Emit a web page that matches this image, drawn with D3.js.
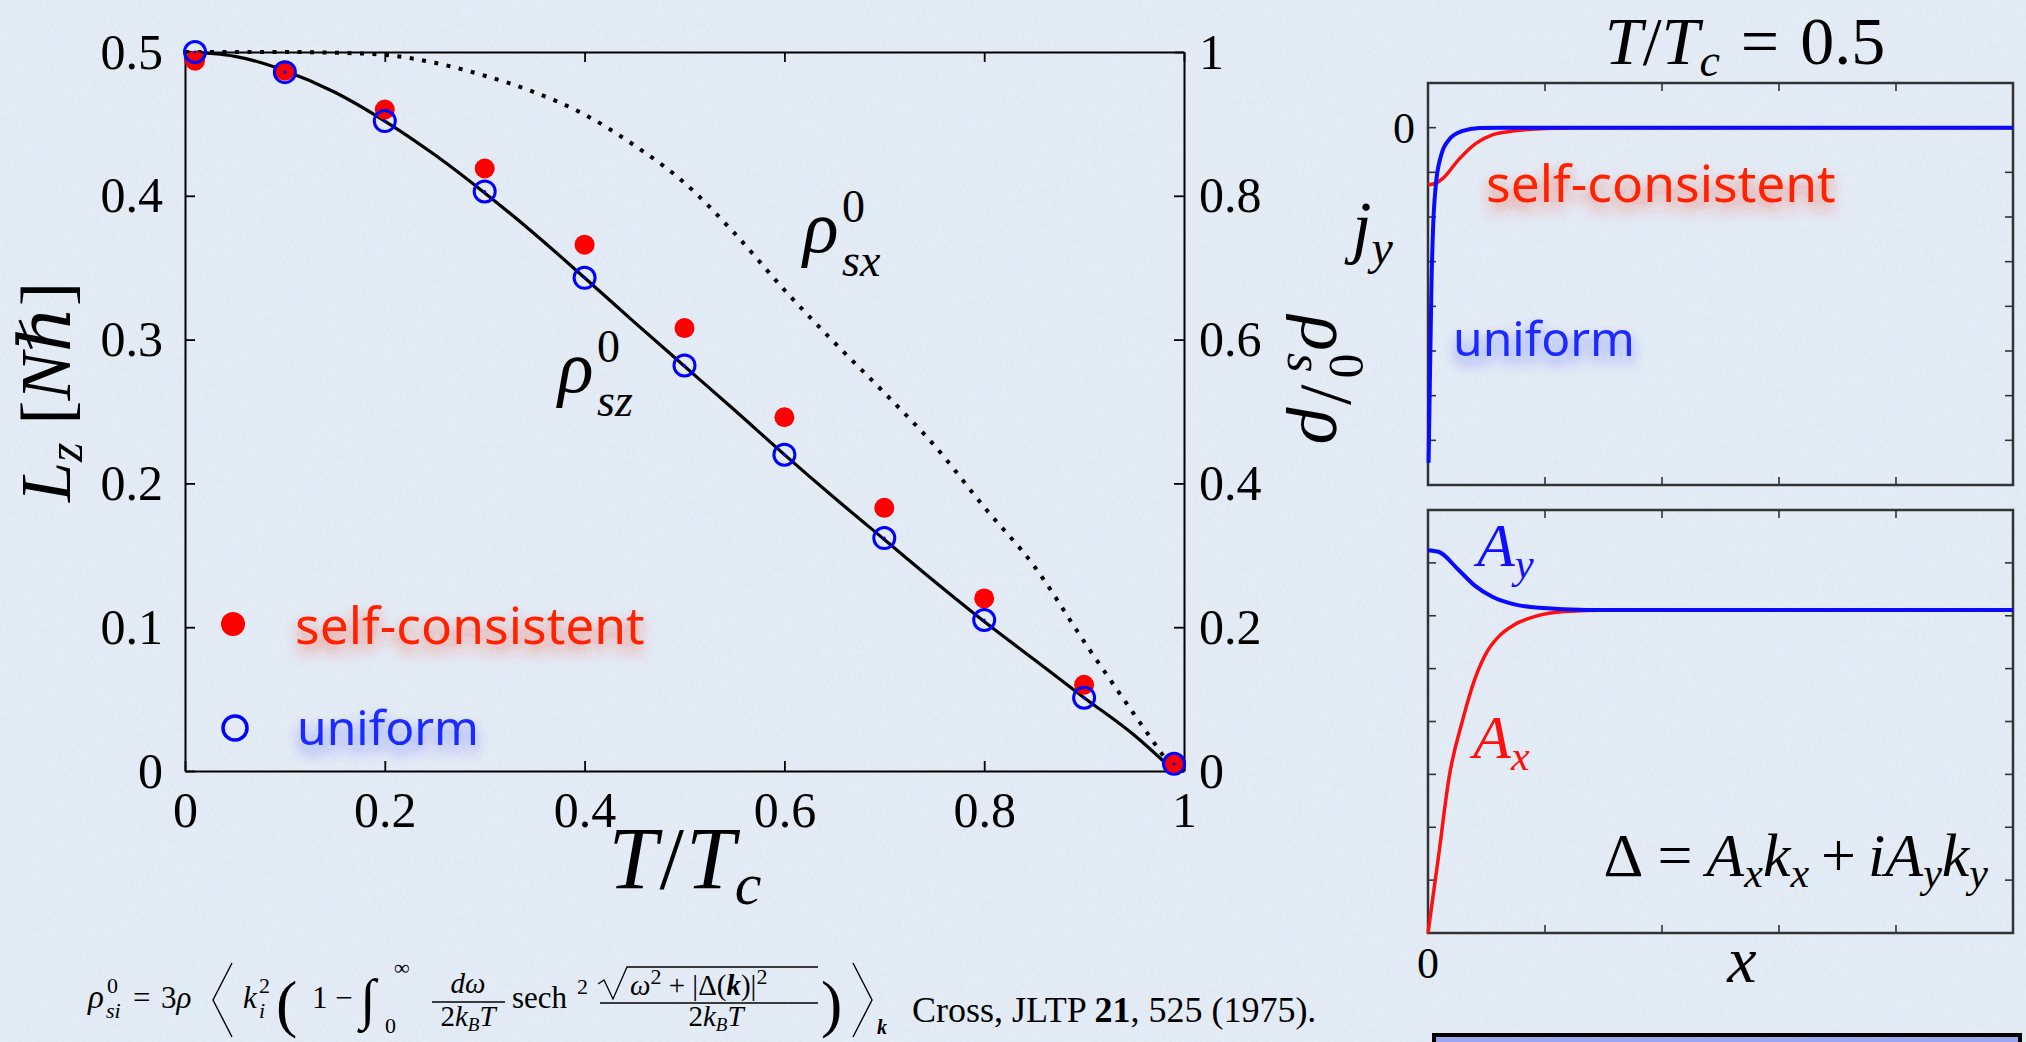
<!DOCTYPE html>
<html><head><meta charset="utf-8">
<script src="https://cdn.jsdelivr.net/npm/d3@7"></script>
<style>html,body{margin:0;padding:0;background:#e4ecf6;overflow:hidden}svg{display:block}</style>
</head><body>
<svg id="c" width="2026" height="1042"></svg>
<script>
// ---------------- data ----------------
const T_points = [0.01, 0.1, 0.2, 0.3, 0.4, 0.5, 0.6, 0.7, 0.8, 0.9, 0.99];
const selfConsistent = [0.494, 0.487, 0.460, 0.419, 0.366, 0.308, 0.246, 0.183, 0.120, 0.060, 0.005];
const uniform = [0.500, 0.486, 0.452, 0.403, 0.343, 0.282, 0.220, 0.162, 0.105, 0.051, 0.005];
const T_curve = [0, 0.05, 0.1, 0.15, 0.2, 0.25, 0.3, 0.35, 0.4, 0.45, 0.5, 0.55, 0.6, 0.65, 0.7, 0.75, 0.8, 0.85, 0.9, 0.95, 0.99];
const rhoSz = [1.0, 0.994, 0.974, 0.944, 0.904, 0.857, 0.804, 0.747, 0.686, 0.624, 0.563, 0.502, 0.440, 0.380, 0.322, 0.264, 0.208, 0.155, 0.102, 0.050, 0.0];
const rhoSx = [1.0, 1.0, 1.0, 0.999, 0.996, 0.985, 0.967, 0.944, 0.913, 0.870, 0.818, 0.748, 0.669, 0.596, 0.526, 0.453, 0.367, 0.285, 0.180, 0.079, 0.0];
const xTicksMain = [0, 0.2, 0.4, 0.6, 0.8, 1];
const yTicksLeft = [0, 0.1, 0.2, 0.3, 0.4, 0.5];
const yTicksRight = [0, 0.2, 0.4, 0.6, 0.8, 1];
const legendLabels = ["self-consistent", "uniform"];

// j_y panel (T/Tc = 0.5)
const x_jyUniform = [0.005, 0.018, 0.03, 0.044, 0.066, 0.11, 0.18, 0.29, 0.44, 0.65, 5];
const jyUniform = [-7.5, -5.35, -3.47, -2.21, -1.31, -0.64, -0.27, -0.08, -0.01, 0, 0];
const x_jySelf = [0, 0.06, 0.13, 0.26, 0.41, 0.55, 0.74, 1.0, 1.25, 5];
const jySelf = [-1.28, -1.25, -1.13, -0.72, -0.35, -0.16, -0.07, -0.02, 0, 0];
const jyTicksY = [-7, -6, -5, -4, -3, -2, -1, 0];
const panelTicksX = [1, 2, 3, 4];

// A panel
const x_Ay = [0, 0.09, 0.26, 0.40, 0.55, 0.73, 0.95, 1.36, 2, 5];
const Ay = [7.24, 7.21, 6.87, 6.57, 6.36, 6.22, 6.15, 6.11, 6.11, 6.11];
const x_Ax = [0, 0.09, 0.18, 0.30, 0.40, 0.51, 0.61, 0.73, 0.92, 1.17, 1.54, 5];
const Ax = [0, 1.45, 2.94, 4.06, 4.80, 5.34, 5.62, 5.82, 5.99, 6.08, 6.11, 6.11];
const aTicksY = [1, 2, 3, 4, 5, 6, 7];

// ---------------- setup ----------------
const svg = d3.select('#c');
const SERIF = "'Liberation Serif','DejaVu Serif',serif";
const SANS = "'Noto Sans','Open Sans',sans-serif";
const defs = svg.append('defs');
defs.append('filter').attr('id', 'paper').attr('x', 0).attr('y', 0).attr('width', 1).attr('height', 1)
  .html('<feTurbulence type="fractalNoise" baseFrequency="0.55 0.18" numOctaves="3" seed="7"/>' +
        '<feColorMatrix type="matrix" values="0 0 0 0 0.55  0 0 0 0 0.6  0 0 0 0 0.72  0.5 0 0 0 -0.18"/>');
function glow(id, op) {
  defs.append('filter').attr('id', id).attr('x', '-20%').attr('y', '-60%').attr('width', '140%').attr('height', '220%')
    .html('<feGaussianBlur in="SourceGraphic" stdDeviation="7" result="b"/>' +
          '<feOffset in="b" dy="8" result="o"/>' +
          '<feComponentTransfer in="o" result="o2"><feFuncA type="linear" slope="' + op + '"/></feComponentTransfer>' +
          '<feMerge><feMergeNode in="o2"/><feMergeNode in="SourceGraphic"/></feMerge>');
}
glow('glowR', 0.55); glow('glowB', 0.45);

svg.append('rect').attr('width', 2026).attr('height', 1042).attr('fill', '#e4ecf6');
svg.append('rect').attr('width', 2026).attr('height', 1042).attr('filter', 'url(#paper)').attr('opacity', 0.6);

// ---------------- main plot ----------------
const x = d3.scaleLinear().domain([0, 1]).range([185, 1184]);
const yL = d3.scaleLinear().domain([0, 0.5]).range([771, 52]);
const yR = d3.scaleLinear().domain([0, 1]).range([771, 52]);
const fmt = d => d3.format('~g')(d);

function styleAxis(g, size) {
  g.select('.domain').attr('stroke', '#000').attr('stroke-width', 2);
  g.selectAll('.tick line').attr('stroke', '#000').attr('stroke-width', 1.8);
  g.selectAll('text').attr('font-family', SERIF).attr('font-size', size).attr('fill', '#000');
}
const gb = svg.append('g').attr('transform', 'translate(0,771)')
  .call(d3.axisBottom(x).tickValues(xTicksMain).tickSizeInner(-10).tickSizeOuter(0).tickPadding(20).tickFormat(fmt));
styleAxis(gb, 50);
const gt = svg.append('g').attr('transform', 'translate(0,52)')
  .call(d3.axisTop(x).tickValues(xTicksMain).tickSizeInner(-10).tickSizeOuter(0).tickFormat(''));
styleAxis(gt, 50);
const gl = svg.append('g').attr('transform', 'translate(185,0)')
  .call(d3.axisLeft(yL).tickValues(yTicksLeft).tickSizeInner(-10).tickSizeOuter(0).tickPadding(22).tickFormat(fmt));
styleAxis(gl, 50);
const gr = svg.append('g').attr('transform', 'translate(1184,0)')
  .call(d3.axisRight(yR).tickValues(yTicksRight).tickSizeInner(-10).tickSizeOuter(0).tickPadding(15).tickFormat(fmt));
styleAxis(gr, 50);

const lineR = d3.line().x((d, i) => x(T_curve[i])).y(d => yR(d)).curve(d3.curveMonotoneX);
svg.append('path').attr('d', lineR(rhoSx)).attr('fill', 'none').attr('stroke', '#000')
  .attr('stroke-width', 4).attr('stroke-dasharray', '4 8.5');
svg.append('path').attr('d', lineR(rhoSz)).attr('fill', 'none').attr('stroke', '#000').attr('stroke-width', 3.2);

svg.append('g').selectAll('circle').data(selfConsistent).join('circle')
  .attr('cx', (d, i) => x(T_points[i])).attr('cy', d => yL(d)).attr('r', 10).attr('fill', '#ff0000');
const gu = svg.append('g');
gu.selectAll('circle.o').data(uniform).join('circle').attr('class', 'o')
  .attr('cx', (d, i) => x(T_points[i])).attr('cy', d => yL(d)).attr('r', 10.5)
  .attr('fill', 'none').attr('stroke', '#0000ff').attr('stroke-width', 3);
gu.selectAll('circle.c').data(uniform).join('circle').attr('class', 'c')
  .attr('cx', (d, i) => x(T_points[i])).attr('cy', d => yL(d)).attr('r', 1.6).attr('fill', '#0000ff');

// legend
svg.append('circle').attr('cx', 233).attr('cy', 624).attr('r', 12).attr('fill', '#ff0000');
svg.append('circle').attr('cx', 235).attr('cy', 728).attr('r', 12).attr('fill', 'none').attr('stroke', '#0000ff').attr('stroke-width', 3.5);
svg.append('text').attr('x', 295).attr('y', 644).attr('font-family', SANS).attr('font-size', 51.5)
  .attr('fill', '#ff2200').attr('filter', 'url(#glowR)').text(legendLabels[0]);
svg.append('text').attr('x', 297).attr('y', 745).attr('font-family', SANS).attr('font-size', 48)
  .attr('fill', '#1f2bff').attr('filter', 'url(#glowB)').text(legendLabels[1]);

// helper for math text
function mtext(parent, xx, yy, size, parts, opts = {}) {
  const t = parent.append('text').attr('x', xx).attr('y', yy).attr('font-family', SERIF)
    .attr('font-size', size).attr('fill', opts.fill || '#000');
  if (opts.anchor) t.attr('text-anchor', opts.anchor);
  if (opts.transform) t.attr('transform', opts.transform);
  parts.forEach(p => {
    const s = t.append('tspan').text(p.t);
    if (p.i) s.attr('font-style', 'italic');
    if (p.b) s.attr('font-weight', 'bold');
    if (p.s) s.attr('font-size', p.s);
    if (p.dy) s.attr('dy', p.dy);
    if (p.dx) s.attr('dx', p.dx);
  });
  return t;
}

// curve annotations (base symbol, superscript and subscript as separate texts)
function rhoLabel(x0, y0, sub) {
  mtext(svg, x0, y0, 74, [{t: 'ρ', i: 1}]);
  mtext(svg, x0 + 39, y0 - 30, 46, [{t: '0'}]);
  mtext(svg, x0 + 39, y0 + 24, 46, [{t: sub, i: 1}]);
}
rhoLabel(803, 252, 'sx');
rhoLabel(558, 392, 'sz');

// axis titles
mtext(svg, 685, 888, 88, [{t: 'T', i: 1}, {t: '/', dx: 2}, {t: 'T', i: 1, dx: 2}, {t: 'c', i: 1, s: 60, dy: 16}], {anchor: 'middle'});
mtext(svg, 0, 0, 72, [{t: 'L', i: 1}, {t: 'z', i: 1, s: 50, dy: 12}, {t: ' [', dy: -12}, {t: 'N', i: 1}, {t: 'ℏ', i: 1}, {t: ']'}],
  {anchor: 'middle', transform: 'translate(70,392) rotate(-90)'});
mtext(svg, 0, 0, 74, [{t: 'ρ', i: 1}, {t: 's', i: 1, s: 50, dy: 14, dx: 2}, {t: '0', s: 50, dx: -19, dy: -42}, {t: '/', dy: 28, dx: 6}, {t: 'ρ', i: 1, dx: 4}],
  {anchor: 'middle', transform: 'translate(1302,380) rotate(90)'});

// ---------------- right panels ----------------
function panel(xs, ys, ticksY) {
  const g = svg.append('g');
  const [x0, x1] = xs.range(), [y0, y1] = ys.range();
  panelTicksX.forEach(v => {
    g.append('line').attr('x1', xs(v)).attr('x2', xs(v)).attr('y1', y1).attr('y2', y1 + 8);
    g.append('line').attr('x1', xs(v)).attr('x2', xs(v)).attr('y1', y0).attr('y2', y0 - 8);
  });
  ticksY.forEach(v => {
    g.append('line').attr('x1', x0).attr('x2', x0 + 8).attr('y1', ys(v)).attr('y2', ys(v));
    g.append('line').attr('x1', x1).attr('x2', x1 - 8).attr('y1', ys(v)).attr('y2', ys(v));
  });
  g.selectAll('line').attr('stroke', '#333').attr('stroke-width', 1.6);
  g.append('rect').attr('x', x0).attr('y', y1).attr('width', x1 - x0).attr('height', y0 - y1)
    .attr('fill', 'none').attr('stroke', '#333').attr('stroke-width', 2.5);
  return g;
}
const xj = d3.scaleLinear().domain([0, 5]).range([1428, 2013]);
const yj = d3.scaleLinear().domain([-8, 1]).range([485, 83]);
const pj = panel(xj, yj, jyTicksY);
const lj = (xsArr) => d3.line().x((d, i) => xj(xsArr[i])).y(d => yj(d)).curve(d3.curveMonotoneX);
pj.append('path').attr('d', lj(x_jySelf)(jySelf)).attr('fill', 'none').attr('stroke', '#ff1010').attr('stroke-width', 3.5);
pj.append('path').attr('d', lj(x_jyUniform)(jyUniform)).attr('fill', 'none').attr('stroke', '#0a0aff').attr('stroke-width', 4);
svg.append('text').attr('x', 1415).attr('y', yj(0)).attr('dy', '0.35em').attr('text-anchor', 'end')
  .attr('font-family', SERIF).attr('font-size', 44).text('0');
svg.append('text').attr('x', 1486).attr('y', 202).attr('font-family', SANS).attr('font-size', 51.5)
  .attr('fill', '#ff2200').attr('filter', 'url(#glowR)').text(legendLabels[0]);
svg.append('text').attr('x', 1453).attr('y', 356).attr('font-family', SANS).attr('font-size', 48)
  .attr('fill', '#1f2bff').attr('filter', 'url(#glowB)').text(legendLabels[1]);
mtext(svg, 1745, 64, 68, [{t: 'T', i: 1}, {t: '/'}, {t: 'T', i: 1}, {t: 'c', i: 1, s: 46, dy: 12}, {t: ' = ', dy: -12, dx: 4}, {t: '0.5', dx: 4}], {anchor: 'middle'});
mtext(svg, 1352, 250, 70, [{t: 'j', i: 1}, {t: 'y', i: 1, s: 48, dy: 14}]);

const xa = d3.scaleLinear().domain([0, 5]).range([1428, 2013]);
const ya = d3.scaleLinear().domain([0, 8]).range([933, 510]);
const pa = panel(xa, ya, aTicksY);
const la = (xsArr) => d3.line().x((d, i) => xa(xsArr[i])).y(d => ya(d)).curve(d3.curveMonotoneX);
pa.append('path').attr('d', la(x_Ax)(Ax)).attr('fill', 'none').attr('stroke', '#ff1010').attr('stroke-width', 3.5);
pa.append('path').attr('d', la(x_Ay)(Ay)).attr('fill', 'none').attr('stroke', '#0a0aff').attr('stroke-width', 4);
svg.append('text').attr('x', xa(0)).attr('y', 978).attr('text-anchor', 'middle')
  .attr('font-family', SERIF).attr('font-size', 44).text('0');
mtext(svg, 1742, 982, 66, [{t: 'x', i: 1}], {anchor: 'middle'});
mtext(svg, 1477, 566, 62, [{t: 'A', i: 1}, {t: 'y', i: 1, s: 42, dy: 12}], {fill: '#1010ff'});
mtext(svg, 1473, 758, 62, [{t: 'A', i: 1}, {t: 'x', i: 1, s: 42, dy: 12}], {fill: '#ff1010'});
mtext(svg, 1988, 876, 62, [{t: 'Δ'}, {t: '=', dx: 14}, {t: 'A', i: 1, dx: 14}, {t: 'x', i: 1, s: 42, dy: 11}, {t: 'k', i: 1, dy: -11}, {t: 'x', i: 1, s: 42, dy: 11},
  {t: '+', dy: -11, dx: 12}, {t: 'iA', i: 1, dx: 12}, {t: 'y', i: 1, s: 42, dy: 11}, {t: 'k', i: 1, dy: -11}, {t: 'y', i: 1, s: 42, dy: 11}], {anchor: 'end'});

// bottom-right box
svg.append('rect').attr('x', 1434).attr('y', 1035).attr('width', 586).attr('height', 30)
  .attr('fill', '#9aa6ef').attr('stroke', '#000').attr('stroke-width', 4);

// ---------------- formula ----------------
const fg = svg.append('g');
const F = 31, S = 22;
mtext(fg, 88, 1008, 33, [{t: 'ρ', i: 1}]);
mtext(fg, 107, 993, S, [{t: '0'}]);
mtext(fg, 106, 1018, S, [{t: 'si', i: 1}]);
mtext(fg, 133, 1008, F, [{t: '='}]);
mtext(fg, 161, 1008, F, [{t: '3'}, {t: 'ρ', i: 1}]);
fg.append('path').attr('d', 'M232,963 L213,1000 L232,1037').attr('fill', 'none').attr('stroke', '#000').attr('stroke-width', 1.4);
mtext(fg, 243, 1008, F, [{t: 'k', i: 1}]);
mtext(fg, 259, 993, S, [{t: '2'}]);
mtext(fg, 259, 1018, S, [{t: 'i', i: 1}]);
mtext(fg, 276, 1025, 64, [{t: '('}]);
mtext(fg, 312, 1008, F, [{t: '1 −'}]);
mtext(fg, 360, 1018, 56, [{t: '∫'}]);
mtext(fg, 394, 975, S, [{t: '∞'}]);
mtext(fg, 385, 1033, S, [{t: '0'}]);
mtext(fg, 468, 993, 29, [{t: 'dω', i: 1}], {anchor: 'middle'});
fg.append('line').attr('x1', 432).attr('x2', 505).attr('y1', 1002).attr('y2', 1002).attr('stroke', '#000').attr('stroke-width', 1.3);
mtext(fg, 468, 1026, 29, [{t: '2'}, {t: 'k', i: 1}, {t: 'B', i: 1, s: 19, dy: 5}, {t: 'T', i: 1, dy: -5}], {anchor: 'middle'});
mtext(fg, 512, 1008, F, [{t: 'sech'}]);
mtext(fg, 577, 994, S, [{t: '2'}]);
fg.append('path').attr('d', 'M598,984 L604,980 L613,999 L627,967 L818,967').attr('fill', 'none').attr('stroke', '#000').attr('stroke-width', 1.3);
mtext(fg, 630, 995, 29, [{t: 'ω', i: 1}, {t: '2', s: S, dy: -11}, {t: ' + |Δ(', dy: 11}, {t: 'k', i: 1, b: 1}, {t: ')|'}, {t: '2', s: S, dy: -11}]);
fg.append('line').attr('x1', 600).attr('x2', 818).attr('y1', 1003).attr('y2', 1003).attr('stroke', '#000').attr('stroke-width', 1.3);
mtext(fg, 716, 1026, 29, [{t: '2'}, {t: 'k', i: 1}, {t: 'B', i: 1, s: 19, dy: 5}, {t: 'T', i: 1, dy: -5}], {anchor: 'middle'});
mtext(fg, 821, 1025, 64, [{t: ')'}]);
fg.append('path').attr('d', 'M853,963 L872,1000 L853,1037').attr('fill', 'none').attr('stroke', '#000').attr('stroke-width', 1.4);
mtext(fg, 877, 1034, 20, [{t: 'k', i: 1, b: 1}]);
mtext(fg, 912, 1022, 36, [{t: 'Cross, JLTP '}, {t: '21', b: 1}, {t: ', 525 (1975).'}]);
</script>
</body></html>
